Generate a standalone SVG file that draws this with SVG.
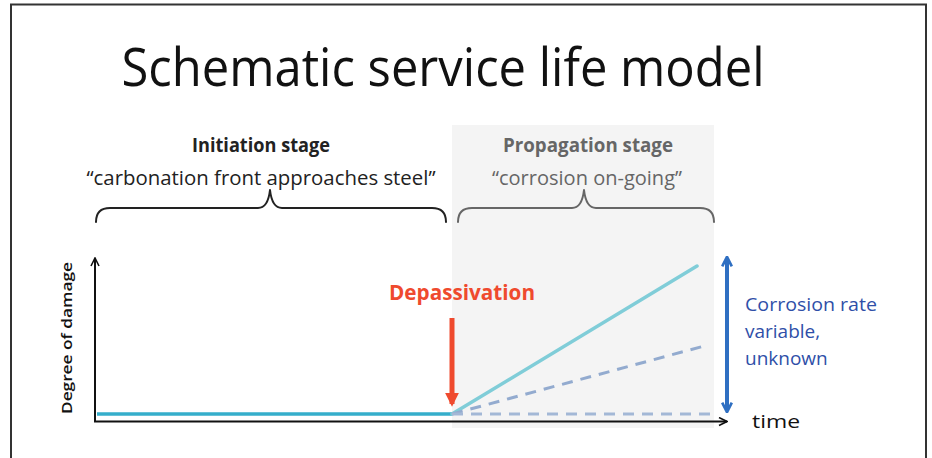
<svg xmlns="http://www.w3.org/2000/svg" width="932" height="458" viewBox="0 0 932 458">
<style>
text{font-family:"Open Sans","Liberation Sans",sans-serif}
.brace{fill:none;stroke-width:2;stroke-linecap:round;stroke-linejoin:round}
</style>
<defs>
<marker id="ahBlack" viewBox="0 0 10 10" refX="9" refY="5" markerWidth="10" markerHeight="10" markerUnits="userSpaceOnUse" orient="auto"><path d="M1,1 L9,5 L1,9" fill="none" stroke="#111" stroke-width="1.6"/></marker>
<marker id="ahRed" viewBox="0 0 10 10" refX="8" refY="5" markerWidth="14" markerHeight="14" markerUnits="userSpaceOnUse" orient="auto"><path d="M0,0 L10,5 L0,10 z" fill="#ef4a2e"/></marker>
<marker id="ahBlue" viewBox="0 0 10 10" refX="8" refY="5" markerWidth="12" markerHeight="14" markerUnits="userSpaceOnUse" orient="auto-start-reverse"><path d="M1,1 L9,5 L1,9" fill="none" stroke="#2f6fc2" stroke-width="2.2"/></marker>
</defs>
<rect width="932" height="458" fill="#fff"/>
<path d="M11,458 V4.5 H926 V458" fill="none" stroke="#333" stroke-width="2"/>
<rect id="propagation-bg" x="452" y="125" width="262" height="303" fill="#f4f4f4"/>
<g id="title"><text x="443" y="86" font-size="53" text-anchor="middle" fill="#111" textLength="643" lengthAdjust="spacingAndGlyphs">Schematic service life model</text></g>
<g id="initiation">
<text x="261" y="152" font-size="19" font-weight="bold" text-anchor="middle" fill="#222" textLength="138" lengthAdjust="spacingAndGlyphs">Initiation stage</text>
<text x="261" y="185" font-size="20" text-anchor="middle" fill="#222" textLength="349" lengthAdjust="spacingAndGlyphs">“carbonation front  approaches steel”</text>
<path class="brace" stroke="#222" d="M96,222 Q96,208 110,208 H258 Q268,208 270,190 Q272,208 282,208 H432 Q446,208 446,222"/>
</g>
<g id="propagation">
<text x="588" y="152" font-size="19" font-weight="bold" text-anchor="middle" fill="#666" textLength="170" lengthAdjust="spacingAndGlyphs">Propagation stage</text>
<text x="587" y="185" font-size="20" text-anchor="middle" fill="#666" textLength="190" lengthAdjust="spacingAndGlyphs">“corrosion on-going”</text>
<path class="brace" stroke="#666" d="M458,222 Q458,208 472,208 H572 Q582,208 584,190 Q586,208 596,208 H700 Q714,208 714,222"/>
</g>
<g id="axes">
<line x1="95" y1="421.5" x2="95" y2="258" stroke="#111" stroke-width="2" marker-end="url(#ahBlack)"/>
<line x1="94" y1="421.5" x2="727" y2="421.5" stroke="#111" stroke-width="2" marker-end="url(#ahBlack)"/>
<text transform="translate(72,338) rotate(-90)" font-size="15" font-weight="600" text-anchor="middle" fill="#111" textLength="152" lengthAdjust="spacingAndGlyphs">Degree of damage</text>
<text x="752" y="428" font-size="18" font-weight="500" fill="#111" textLength="48" lengthAdjust="spacingAndGlyphs">time</text>
</g>
<g id="curves">
<line x1="97" y1="414" x2="452" y2="414" stroke="#35aecb" stroke-width="3.5"/>
<line x1="452" y1="414" x2="697" y2="266" stroke="#80cdd8" stroke-width="3.5" stroke-linecap="round"/>
<line x1="452" y1="414" x2="708" y2="345" stroke="#93abcf" stroke-width="3" stroke-dasharray="11,8"/>
<line x1="452" y1="414" x2="712" y2="414" stroke="#a3b8d6" stroke-width="3" stroke-dasharray="11,8"/>
</g>
<g id="depassivation">
<text x="462" y="300" font-size="21" font-weight="bold" text-anchor="middle" fill="#ef4a2e" textLength="146" lengthAdjust="spacingAndGlyphs">Depassivation</text>
<line x1="452" y1="318" x2="452" y2="404" stroke="#ef4a2e" stroke-width="5" marker-end="url(#ahRed)"/>
</g>
<g id="rate">
<line x1="727" y1="258" x2="727" y2="411" stroke="#2f6fc2" stroke-width="4" marker-start="url(#ahBlue)" marker-end="url(#ahBlue)"/>
<text font-size="19" font-weight="500" fill="#2f4fa8"><tspan x="745" y="311" textLength="132" lengthAdjust="spacingAndGlyphs">Corrosion rate</tspan><tspan x="745" y="338">variable,</tspan><tspan x="745" y="365">unknown</tspan></text>
</g>
</svg>
